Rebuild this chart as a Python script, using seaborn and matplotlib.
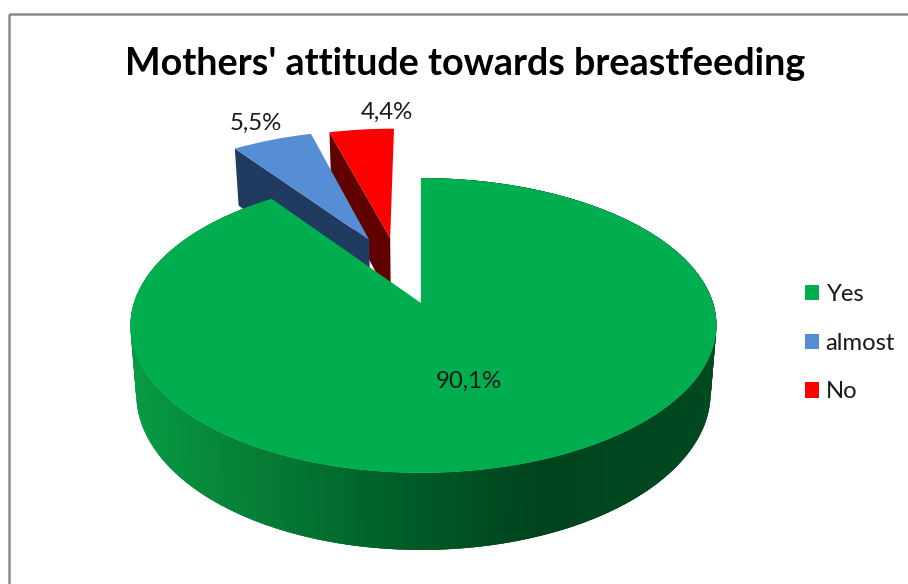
import numpy as np
import matplotlib
matplotlib.use("Agg")
import matplotlib.pyplot as plt
import seaborn as sns
from matplotlib.collections import PolyCollection
from matplotlib.patches import Rectangle
from matplotlib.transforms import Transform

categories = ["Yes", "almost", "No"]
shares = [90.1, 5.5, 4.4]
value_labels = ["90,1%", "5,5%", "4,4%"]
title = "Mothers' attitude towards breastfeeding"

top_colors = ["#00AE50", "#558ED5", "#FF0000"]
wall_colors = ["#2E6B4F", "#203A60", "#600000"]
slice_centers = [(0.0, 0.0), (-0.192, 0.469), (-0.1145, 0.485)]
label_positions = [(469, 381), (256, 123), (387, 112)]
rim_stops_x = [130, 250, 400, 545, 717]
rim_stops_rgb = [(0x08, 0x9C, 0x44), (0x06, 0x80, 0x38), (0x00, 0x5E, 0x28),
                 (0x00, 0x43, 0x1E), (0x00, 0x4A, 0x20)]

sns.set_theme(style="white")
plt.rcParams["font.family"] = ["Lato", "DejaVu Sans"]


class Tilt(Transform):
    """Perspective view of the pie plane; level 0 is the top face, 1 the base."""
    input_dims = 2
    output_dims = 2
    is_separable = False
    has_inverse = False

    def __init__(self, level=0.0):
        super().__init__()
        self.level = level

    def transform_non_affine(self, values):
        values = np.asarray(values, dtype=float)
        x, y = values[:, 0], values[:, 1]
        w = 1 + 0.1525 * y
        X = 423.5 + 289.6 * x / w - 2.5 * (1 - np.minimum(x * x, 1))
        Y = 303 - 144.0 * y / w
        X = 423.5 + (X - 423.5) * (1 - 0.02 * self.level)
        Y = Y + self.level * (207 + 1.062 * (Y - 150) - Y)
        return np.column_stack([X, Y])


top = Tilt(0.0)
base = Tilt(1.0)

fig = plt.figure(figsize=(9.08, 5.84), dpi=100, facecolor="white")
ax = fig.add_axes([0, 0, 1, 1])

wedges, _ = ax.pie(shares, colors=top_colors, startangle=90, counterclock=False,
                   wedgeprops={"linewidth": 0})
ax.set_aspect("auto")
ax.set_xlim(0, 908)
ax.set_ylim(584, 0)
ax.axis("off")

face_z = [6, 4, 2]
wall_z = [5, 3, 1]
for wedge, center, zf in zip(wedges, slice_centers, face_z):
    wedge.set_center(center)
    wedge.set_transform(top + ax.transData)
    wedge.set_zorder(zf)


def rim(wedge, deg):
    t = np.radians(deg)
    return np.array([[wedge.center[0] + np.cos(t), wedge.center[1] + np.sin(t)]])


def quad(p, q):
    return np.vstack([top.transform_non_affine(p), top.transform_non_affine(q),
                      base.transform_non_affine(q), base.transform_non_affine(p)])


# radial walls facing the viewer: the left edge of the blue and red slices
for wedge, color, zw in zip(wedges[1:], wall_colors[1:], wall_z[1:]):
    c = np.array([wedge.center])
    ax.add_collection(PolyCollection([quad(c, rim(wedge, wedge.theta2))], facecolors=color,
                                     edgecolors="none", zorder=zw), autolim=False)

# the big slice shows its own radial wall only as a thin seam along the gap
g = wedges[0]
seam = np.vstack([top.transform_non_affine(np.array([g.center])),
                  top.transform_non_affine(rim(g, g.theta2))])
ax.plot(seam[:, 0], seam[:, 1], color=wall_colors[0], lw=0.9, zorder=5.5)

# curved outer wall of the big slice, shaded across the screen
angles = np.arange(g.theta1, g.theta2, 0.75)
strips, shades = [], []
for a0 in angles:
    poly = quad(rim(g, a0), rim(g, min(a0 + 2.0, g.theta2)))
    strips.append(poly)
    xm = poly[:, 0].mean()
    shades.append([np.interp(xm, rim_stops_x, [c[i] for c in rim_stops_rgb]) / 255 for i in range(3)])
ax.add_collection(PolyCollection(strips, facecolors=shades, edgecolors="none", zorder=5),
                  autolim=False)

ax.add_patch(Rectangle((9, 14), 1200, 1000, fill=False, edgecolor="#8C8C8C", linewidth=1.8, zorder=0))

ax.text(465, 64, title, ha="center", va="center", fontsize=27.2, fontweight="bold",
        color="black", zorder=8)
for lab, (px, py) in zip(value_labels, label_positions):
    ax.text(px, py, lab, ha="center", va="center", fontsize=17.3, color="#1A1A1A", zorder=8)

leg = ax.legend(wedges, categories, loc="upper left", bbox_to_anchor=(805 / 908, 1 - 284 / 584),
                frameon=False, fontsize=17.2, handlelength=0.6, handleheight=0.6,
                handletextpad=0.26, labelspacing=1.16, borderpad=0, borderaxespad=0)
leg.set_zorder(8)
for t in leg.get_texts():
    t.set_color("#1A1A1A")

fig.savefig("out.png", dpi=100)
